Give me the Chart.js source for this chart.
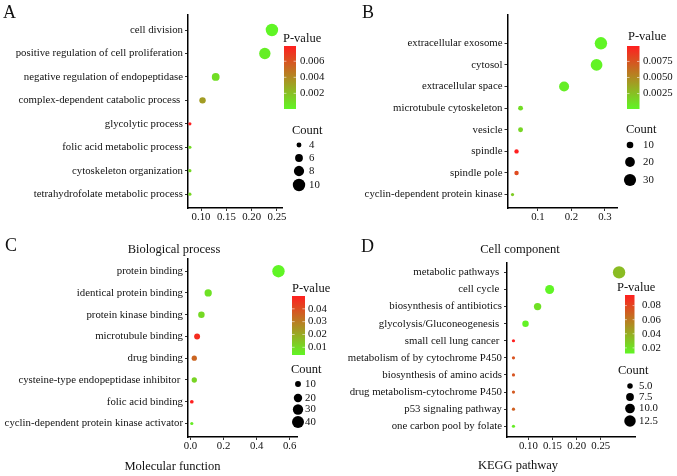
<!DOCTYPE html>
<html><head><meta charset="utf-8">
<script src="https://cdn.jsdelivr.net/npm/chart.js@4.4.0/dist/chart.umd.min.js"></script>
<style>
html,body{margin:0;padding:0;background:#fff;}
#wrap{position:relative;width:677px;height:476px;overflow:hidden;background:#fff;font-family:"Liberation Serif","Times New Roman",serif;color:#111;}
.cv{position:absolute;}
.cv canvas{display:block;}
.txt{position:absolute;white-space:nowrap;line-height:1;}
.ttl{font-size:12.5px;transform:translateX(-50%);}
.let{font-size:18px;}
</style></head><body>
<div id="wrap">
  <div class="cv" style="left:0;top:0;"><canvas id="cA" width="338" height="236"></canvas></div>
  <div class="cv" style="left:338px;top:0;"><canvas id="cB" width="339" height="236"></canvas></div>
  <div class="cv" style="left:0;top:236px;"><canvas id="cC" width="338" height="240"></canvas></div>
  <div class="cv" style="left:338px;top:236px;"><canvas id="cD" width="339" height="240"></canvas></div>
  <div class="txt let" style="left:3px;top:3.4px;">A</div>
  <div class="txt let" style="left:362px;top:3.4px;">B</div>
  <div class="txt let" style="left:5px;top:236px;">C</div>
  <div class="txt let" style="left:361px;top:237.4px;">D</div>
  <div class="txt ttl" style="left:174px;top:242.8px;">Biological process</div>
  <div class="txt ttl" style="left:520px;top:243px;">Cell component</div>
  <div class="txt ttl" style="left:172.5px;top:459.8px;">Molecular function</div>
  <div class="txt ttl" style="left:518px;top:459.3px;">KEGG pathway</div>
</div>
<script>
// ---------------- DATA ----------------
// Panel A – biological process
const catsA = ['cell division','positive regulation of cell proliferation','negative regulation of endopeptidase','complex-dependent catabolic process ','glycolytic process','folic acid metabolic process','cytoskeleton organization','tetrahydrofolate metabolic process'];
const ratioA = [0.240, 0.226, 0.129, 0.103, 0.078, 0.078, 0.078, 0.078];
const countA = [10, 9, 6, 5, 3, 3, 3, 3];
const pvalA  = [0.00005, 0.0003, 0.0009, 0.0033, 0.0079, 0.0010, 0.0011, 0.0012];
const xTicksA = [0.10, 0.15, 0.20, 0.25];
const pTicksA = [0.002, 0.004, 0.006];
const cTicksA = [4, 6, 8, 10];

// Panel B – cell component
const catsB = ['extracellular exosome','cytosol','extracellular space','microtubule cytoskeleton','vesicle','spindle','spindle pole','cyclin-dependent protein kinase'];
const ratioB = [0.288, 0.275, 0.178, 0.048, 0.048, 0.036, 0.036, 0.024];
const countB = [31, 28, 21, 6, 6, 5, 5, 3];
const pvalB  = [0.0001, 0.0002, 0.0004, 0.0012, 0.0015, 0.0099, 0.0079, 0.0020];
const xTicksB = [0.1, 0.2, 0.3];
const pTicksB = [0.0025, 0.0050, 0.0075];
const cTicksB = [10, 20, 30];

// Panel C – molecular function
const catsC = ['protein binding','identical protein binding','protein kinase binding','microtubule binding','drug binding','cysteine-type endopeptidase inhibitor ','folic acid binding','cyclin-dependent protein kinase activator'];
const ratioC = [0.532, 0.107, 0.066, 0.040, 0.023, 0.023, 0.008, 0.008];
const countC = [43, 15, 12, 10, 8, 8, 4, 3];
const pvalC  = [0.004, 0.008, 0.010, 0.047, 0.035, 0.011, 0.050, 0.006];
const xTicksC = [0.0, 0.2, 0.4, 0.6];
const pTicksC = [0.01, 0.02, 0.03, 0.04];
const cTicksC = [10, 20, 30, 40];

// Panel D – KEGG pathway
const catsD = ['metabolic pathways ','cell cycle ','biosynthesis of antibiotics','glycolysis/Gluconeogenesis ','small cell lung cancer ','metabolism of by cytochrome P450','biosynthesis of amino acids','drug metabolism-cytochrome P450','p53 signaling pathway','one carbon pool by folate'];
const ratioD = [0.288, 0.144, 0.119, 0.094, 0.069, 0.069, 0.069, 0.069, 0.069, 0.069];
const countD = [14, 9, 7, 6, 3, 3, 3, 3, 3, 3];
const pvalD  = [0.034, 0.012, 0.020, 0.013, 0.095, 0.075, 0.074, 0.072, 0.070, 0.015];
const xTicksD = [0.10, 0.15, 0.20, 0.25];
const pTicksD = [0.02, 0.04, 0.06, 0.08];
const cTicksD = [5.0, 7.5, 10.0, 12.5];

// ---------------- STYLE / COLOUR ----------------
const FONT = '"Liberation Serif", "Times New Roman", serif';
const LOW = [96, 245, 37], HIGH = [255, 31, 31];
const R_MIN = 1.6, R_MAX = 6.2;

function gradient(t){
  t=Math.max(0,Math.min(1,t));
  const c=[0,1,2].map(i=>Math.round(LOW[i]+(HIGH[i]-LOW[i])*t));
  return `rgb(${c[0]},${c[1]},${c[2]})`;
}

const ggLegend = {
  id:'gglegend',
  afterDraw(chart, args, o){
    const ctx = chart.ctx;
    ctx.save();
    ctx.textBaseline='middle'; ctx.textAlign='left';
    ctx.fillStyle='#111';
    ctx.font = `12.5px ${FONT}`;
    ctx.fillText('P-value', o.pTitle.x, o.pTitle.y);
    const b=o.bar;
    const g=ctx.createLinearGradient(0, b.y+b.h, 0, b.y);
    for(let i=0;i<=10;i++){ g.addColorStop(i/10, gradient(i/10)); }
    ctx.fillStyle=g;
    ctx.fillRect(b.x, b.y, b.w, b.h);
    ctx.font = `10.8px ${FONT}`;
    o.pTicks.forEach(v=>{
      const yy = b.y + b.h - (v-o.pmin)/(o.pmax-o.pmin)*b.h;
      ctx.strokeStyle='rgba(255,255,255,0.7)'; ctx.lineWidth=0.8;
      ctx.beginPath();
      ctx.moveTo(b.x,yy); ctx.lineTo(b.x+b.w*0.2,yy);
      ctx.moveTo(b.x+b.w*0.8,yy); ctx.lineTo(b.x+b.w,yy);
      ctx.stroke();
      ctx.fillStyle='#111';
      ctx.fillText(v.toFixed(o.pDec), o.barLabelX, yy);
    });
    ctx.font = `12.5px ${FONT}`;
    ctx.fillText('Count', o.cTitle.x, o.cTitle.y);
    ctx.font = `10.8px ${FONT}`;
    o.cTicks.forEach((c,i)=>{
      const yy=o.rowsY[i];
      ctx.fillStyle='#000';
      ctx.beginPath(); ctx.arc(o.circX, yy, o.rOf(c), 0, Math.PI*2); ctx.fill();
      ctx.fillStyle='#111';
      ctx.fillText(c.toFixed(o.cDec), o.cLabelX, yy);
    });
    ctx.restore();
  }
};

function makePanel(id, d, cfg){
  const pmin=Math.min(...d.pval), pmax=Math.max(...d.pval);
  const cmin=Math.min(...d.count), cmax=Math.max(...d.count);
  const rOf=c=>R_MIN+(R_MAX-R_MIN)*(Math.sqrt(c)-Math.sqrt(cmin))/(Math.sqrt(cmax)-Math.sqrt(cmin));
  const points=d.cats.map((c,i)=>({x:d.ratio[i], y:i, r:rOf(d.count[i])}));
  const colors=d.pval.map(p=>gradient((p-pmin)/(pmax-pmin)));
  const tickFont={family:FONT,size:10.8,lineHeight:1};
  new Chart(document.getElementById(id),{
    type:'bubble',
    data:{datasets:[{data:points, backgroundColor:colors, borderWidth:0, hoverRadius:0}]},
    options:{
      responsive:false, animation:false, events:[],
      layout:{padding:{left:0, top:cfg.area.t, right:cfg.w-cfg.area.r, bottom:0}},
      plugins:{
        legend:{display:false}, tooltip:{enabled:false},
        gglegend:Object.assign({pmin, pmax, rOf, pTicks:d.pTicks, cTicks:d.cTicks, pDec:d.pDec, cDec:d.cDec}, cfg.legend)
      },
      scales:{
        x:{type:'linear', min:cfg.xMin, max:cfg.xMax,
          afterBuildTicks:s=>{s.ticks=d.xTicks.map(v=>({value:v}));},
          afterFit:s=>{s.height=cfg.h-cfg.area.b;},
          ticks:{callback:v=>Number(v).toFixed(d.xDec), font:tickFont, color:'#111', padding:1, maxRotation:0, autoSkip:false},
          grid:{display:true, drawOnChartArea:false, drawTicks:true, tickLength:3, tickColor:'#333', color:'#333'},
          border:{display:true, color:'#000', width:1.5}},
        y:{type:'linear', reverse:true, min:cfg.yMin, max:cfg.yMax,
          afterBuildTicks:s=>{s.ticks=d.cats.map((c,i)=>({value:i}));},
          afterFit:s=>{s.width=cfg.area.l;},
          ticks:{callback:v=>d.cats[v], font:tickFont, color:'#111', padding:2, autoSkip:false},
          grid:{display:true, drawOnChartArea:false, drawTicks:true, tickLength:3, tickColor:'#333', color:'#333'},
          border:{display:true, color:'#000', width:1.5}}
      }
    },
    plugins:[ggLegend]
  });
}

makePanel('cA',{cats:catsA,ratio:ratioA,count:countA,pval:pvalA,xTicks:xTicksA,xDec:2,pTicks:pTicksA,pDec:3,cTicks:cTicksA,cDec:0},
  {w:338,h:236,area:{l:188,r:282,t:15,b:208},xMin:0.0743,xMax:0.2599,yMin:-0.64,yMax:7.59,
   legend:{pTitle:{x:283,y:39},bar:{x:284,y:46,w:12,h:63},barLabelX:300,cTitle:{x:292,y:131},circX:299,cLabelX:309,rowsY:[145,158,171,185]}});
makePanel('cB',{cats:catsB,ratio:ratioB,count:countB,pval:pvalB,xTicks:xTicksB,xDec:1,pTicks:pTicksB,pDec:4,cTicks:cTicksB,cDec:0},
  {w:339,h:236,area:{l:169.5,r:279,t:15,b:208},xMin:0.009,xMax:0.336,yMin:-1.31,yMax:7.62,
   legend:{pTitle:{x:290,y:37},bar:{x:289,y:46,w:12.5,h:63},barLabelX:305,cTitle:{x:288,y:130},circX:292,cLabelX:305,rowsY:[145,162,180]}});
makePanel('cC',{cats:catsC,ratio:ratioC,count:countC,pval:pvalC,xTicks:xTicksC,xDec:1,pTicks:pTicksC,pDec:2,cTicks:cTicksC,cDec:0},
  {w:338,h:240,area:{l:188,r:297,t:23,b:201},xMin:-0.015,xMax:0.644,yMin:-0.56,yMax:7.62,
   legend:{pTitle:{x:292,y:52.5},bar:{x:292,y:60,w:13,h:59},barLabelX:308,cTitle:{x:291,y:134},circX:298,cLabelX:305,rowsY:[148,162,173.5,186]}});
makePanel('cD',{cats:catsD,ratio:ratioD,count:countD,pval:pvalD,xTicks:xTicksD,xDec:2,pTicks:pTicksD,pDec:2,cTicks:cTicksD,cDec:1},
  {w:339,h:240,area:{l:169,r:297,t:27,b:201},xMin:0.0556,xMax:0.321,yMin:-0.55,yMax:9.63,
   legend:{pTitle:{x:279,y:52},bar:{x:287,y:59,w:9.5,h:58.5},barLabelX:304,cTitle:{x:280,y:135},circX:292,cLabelX:301,rowsY:[150,161,172.5,185]}});
</script>
</body></html>
